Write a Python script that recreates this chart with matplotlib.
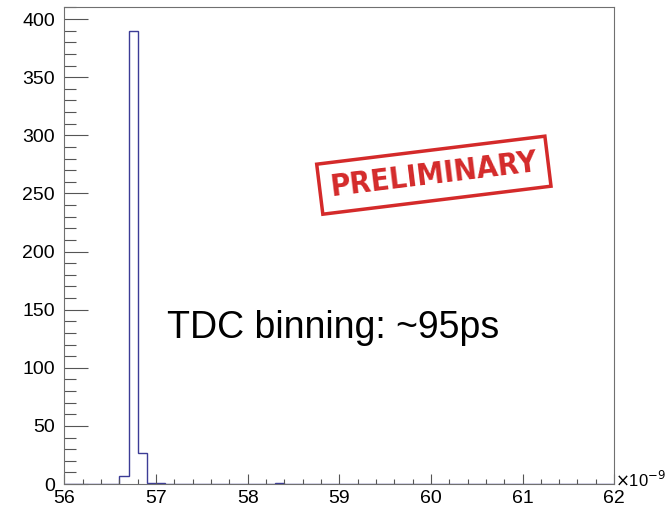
import numpy as np
import matplotlib
matplotlib.use("Agg")
import matplotlib.pyplot as plt
from matplotlib.ticker import MultipleLocator

# histograma TDC: bordas 56..62 ns, bins de 0.1 ns
x_min, x_max, largura = 56.0, 62.0, 0.1
bordas = np.round(np.arange(x_min, x_max + largura / 2, largura), 3)
contagens = np.zeros(len(bordas) - 1)
bins_nao_nulos = {56.6: 7, 56.7: 390, 56.8: 27, 56.9: 1, 57.0: 1, 58.3: 1}
for inicio, n in bins_nao_nulos.items():
    contagens[int(round((inicio - x_min) / largura))] = n

y_max = 410
texto_binning = "TDC binning: ~95ps"
texto_carimbo = "PRELIMINARY"

plt.rcParams["font.family"] = ["Liberation Sans", "DejaVu Sans"]

fig = plt.figure(figsize=(6.69, 5.13), dpi=100)
ax = fig.add_axes([0.0964, 0.0565, 0.8216, 0.929])

ax.stairs(contagens, bordas, color="#3c3c96", lw=1.0, baseline=0)
ax.set_xlim(x_min, x_max)
ax.set_ylim(0, y_max)

for s in ax.spines.values():
    s.set_edgecolor("#707070")
    s.set_linewidth(0.8)

ax.xaxis.set_major_locator(MultipleLocator(1))
ax.xaxis.set_minor_locator(MultipleLocator(0.2))
ax.yaxis.set_major_locator(MultipleLocator(50))
ax.yaxis.set_minor_locator(MultipleLocator(10))
ax.tick_params(axis="both", which="both", direction="in", color="#555555",
               top=False, right=False, labelsize=14)
ax.tick_params(axis="y", which="major", length=17, width=0.8, pad=7)
ax.tick_params(axis="y", which="minor", length=8.5, width=0.8)
ax.tick_params(axis="x", which="major", length=7, width=0.8, pad=4)
ax.tick_params(axis="x", which="minor", length=3.5, width=0.8)

ax.text(1.002, 0.009, r"$\times$10$^{-9}$", transform=ax.transAxes,
        fontsize=12, ha="left", va="center")

ax.text(0.187, 0.306, texto_binning, transform=ax.transAxes,
        fontsize=27, ha="left", va="baseline", color="black")

ax.text(0.672, 0.648, texto_carimbo, transform=ax.transAxes,
        fontsize=22, fontweight="bold", fontstretch="condensed",
        color="#d42a2a", rotation=7, ha="center", va="center",
        family=["DejaVu Sans"],
        bbox=dict(boxstyle="square,pad=0.35", facecolor="none",
                  edgecolor="#d42a2a", linewidth=2.5))

fig.savefig("out.png", dpi=100)
